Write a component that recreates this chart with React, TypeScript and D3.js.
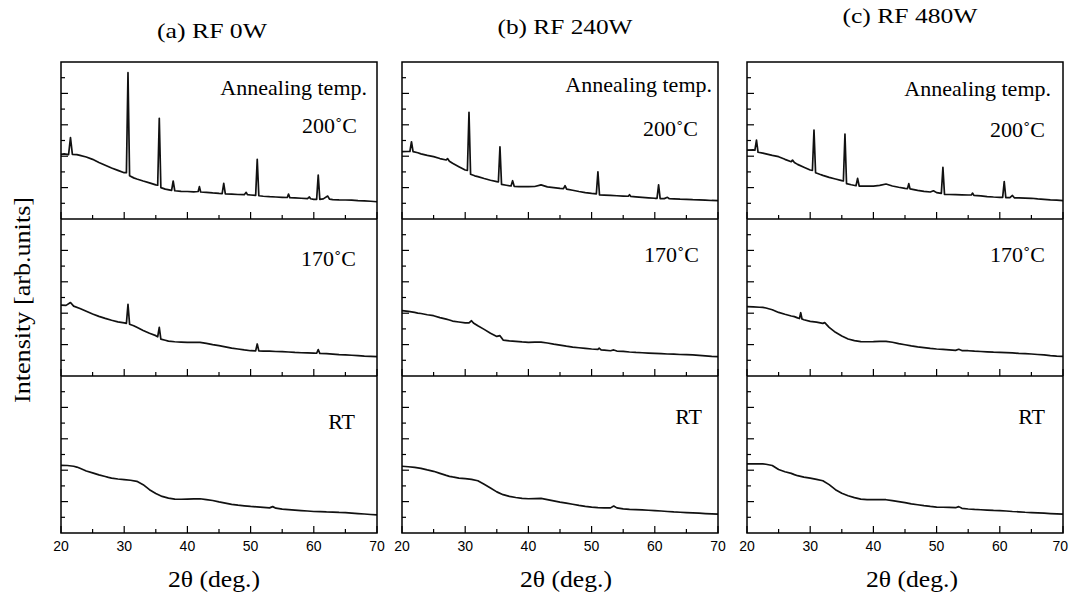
import * as d3 from "d3";

// x range of every panel (2theta, deg.)
const xDomain = [20, 70];
const xTickLabels = [20, 30, 40, 50, 60, 70];

const panelTitles = ["(a) RF 0W", "(b) RF 240W", "(c) RF 480W"];
const rowLabels = ["200˚C", "170˚C", "RT"];

// intensity read in units of the y tick grid (0..10 per row)
const a200 = [[20,4.12],[20.5,4.15],[21.2,4.1],[21.5,5.18],[21.8,4.12],[22.5,4.1],[23,4.05],[24,3.95],[25,3.8],[26,3.6],[27,3.42],[28,3.25],[29,3.1],[30,2.95],[30.35,2.95],[30.6,9.32],[30.85,2.75],[31.5,2.62],[32,2.55],[33,2.42],[34,2.3],[35,2.17],[35.3,2.15],[35.55,6.41],[35.8,2.0],[36.5,1.9],[37.5,1.82],[37.75,2.42],[38,1.8],[39,1.76],[40,1.75],[41,1.73],[41.7,1.75],[41.9,2.06],[42.1,1.72],[43,1.7],[44,1.66],[45,1.63],[45.5,1.62],[45.75,2.27],[46,1.6],[47,1.58],[48,1.56],[49,1.55],[49.3,1.7],[49.5,1.55],[50,1.53],[50.8,1.5],[51.05,3.8],[51.3,1.48],[52,1.45],[53,1.42],[54,1.4],[55,1.38],[55.8,1.37],[56.0,1.59],[56.2,1.36],[57,1.34],[58,1.32],[59,1.3],[59.3,1.4],[59.5,1.29],[60,1.25],[60.45,1.25],[60.7,2.8],[60.95,1.25],[61.5,1.28],[62.2,1.46],[62.5,1.26],[63,1.24],[64,1.22],[65,1.21],[66,1.2],[67,1.17],[68,1.15],[69,1.13],[70,1.1]];
const a170 = [[20,4.52],[20.8,4.5],[21.5,4.68],[22,4.45],[23,4.3],[24,4.12],[25,3.95],[26,3.8],[27,3.67],[28,3.55],[29,3.45],[30,3.38],[30.35,3.35],[30.6,4.57],[30.85,3.3],[31.5,3.2],[32,3.1],[33,2.9],[34,2.72],[35,2.57],[35.3,2.5],[35.55,3.1],[35.8,2.35],[36.5,2.28],[37,2.22],[38,2.18],[39,2.16],[40,2.14],[41,2.15],[42,2.14],[43,2.08],[44,2.0],[45,1.93],[46,1.86],[47,1.78],[48,1.72],[49,1.66],[50,1.61],[50.8,1.6],[51.05,2.04],[51.3,1.6],[52,1.58],[53,1.58],[54,1.56],[55,1.55],[56,1.53],[57,1.5],[58,1.48],[59,1.47],[60,1.46],[60.45,1.45],[60.7,1.68],[60.95,1.44],[62,1.42],[63,1.39],[64,1.36],[65,1.34],[66,1.32],[67,1.3],[68,1.27],[69,1.25],[70,1.23]];
const aRT = [[20,4.31],[21,4.3],[22,4.25],[22.5,4.2],[23,4.12],[24,3.95],[25,3.83],[26,3.7],[27,3.6],[27.5,3.54],[28,3.5],[29,3.44],[30,3.4],[31,3.36],[32,3.29],[33,3.08],[34,2.76],[35,2.52],[36,2.33],[37,2.22],[38,2.16],[39,2.15],[40,2.16],[41,2.17],[42,2.18],[43,2.13],[44,2.07],[45,1.98],[46,1.9],[47,1.82],[48,1.77],[49,1.73],[50,1.69],[51,1.66],[52,1.63],[53,1.6],[53.5,1.68],[54,1.58],[55,1.52],[56,1.49],[57,1.46],[58,1.43],[59,1.4],[60,1.37],[61,1.36],[62,1.34],[63,1.33],[64,1.31],[65,1.3],[66,1.27],[67,1.24],[68,1.21],[69,1.18],[70,1.15]];

const b200 = [[20,4.29],[20.8,4.3],[21.25,4.3],[21.5,4.92],[21.75,4.29],[22.5,4.22],[23,4.15],[24,4.05],[25,3.97],[26,3.85],[27,3.76],[27.2,3.85],[27.5,3.68],[28,3.55],[29,3.33],[30,3.12],[30.35,3.1],[30.6,6.8],[30.85,2.85],[31.5,2.75],[32,2.7],[33,2.58],[34,2.47],[35,2.38],[35.25,2.36],[35.5,4.6],[35.75,2.2],[36.5,2.15],[37.25,2.1],[37.5,2.44],[37.75,2.08],[38.5,2.06],[39,2.06],[40,2.06],[41,2.07],[42,2.17],[43,2.05],[44,2.0],[45,1.95],[45.55,1.93],[45.8,2.12],[46.05,1.9],[47,1.83],[48,1.75],[49,1.68],[50,1.63],[50.75,1.6],[51,3.01],[51.25,1.53],[52,1.52],[53,1.5],[54,1.48],[55,1.46],[55.8,1.45],[56,1.55],[56.2,1.44],[57,1.41],[58,1.38],[59,1.35],[60,1.32],[60.35,1.32],[60.6,2.17],[60.85,1.3],[61.5,1.3],[62,1.38],[62.3,1.29],[63,1.28],[64,1.26],[65,1.25],[66,1.23],[67,1.22],[68,1.2],[69,1.18],[70,1.17]];
const b170 = [[20,4.16],[21,4.12],[22,4.05],[22.5,4.01],[23,3.98],[24,3.9],[25,3.84],[26,3.72],[27,3.62],[27.5,3.57],[28,3.5],[29,3.44],[30,3.38],[30.6,3.38],[31,3.52],[31.3,3.38],[32,3.2],[33,2.97],[34,2.72],[35,2.52],[35.5,2.57],[35.8,2.4],[36,2.29],[37,2.24],[38,2.21],[39,2.17],[40,2.14],[41,2.16],[42,2.16],[43,2.1],[44,2.03],[45,1.97],[46,1.9],[47,1.84],[48,1.8],[49,1.76],[50,1.72],[51,1.7],[51.2,1.77],[51.5,1.67],[52,1.65],[53,1.61],[53.5,1.66],[54,1.59],[55,1.57],[56,1.53],[57,1.5],[58,1.48],[59,1.46],[60,1.44],[61,1.42],[62,1.4],[63,1.39],[64,1.37],[65,1.36],[66,1.34],[67,1.31],[68,1.28],[69,1.25],[70,1.23]];
const bRT = [[20,4.25],[21,4.22],[22,4.18],[22.5,4.15],[23,4.12],[24,4.02],[25,3.93],[26,3.8],[27,3.67],[27.5,3.61],[28,3.57],[29,3.5],[30,3.46],[31,3.42],[32,3.33],[33,3.1],[34,2.86],[35,2.62],[36,2.44],[37,2.33],[38,2.26],[39,2.21],[40,2.18],[41,2.19],[42,2.2],[43,2.13],[44,2.05],[45,1.97],[46,1.9],[47,1.83],[48,1.76],[49,1.7],[50,1.65],[51,1.62],[52,1.6],[53,1.6],[53.5,1.72],[54,1.6],[55,1.54],[56,1.51],[57,1.49],[58,1.47],[59,1.45],[60,1.43],[61,1.4],[62,1.37],[63,1.34],[64,1.32],[65,1.3],[66,1.28],[67,1.26],[68,1.24],[69,1.22],[70,1.2]];

const c200 = [[20,4.39],[21,4.4],[21.25,4.38],[21.5,5.03],[21.75,4.25],[22.5,4.2],[23,4.15],[24,4.05],[25,3.97],[26,3.8],[27,3.65],[27.2,3.75],[27.5,3.6],[28,3.48],[29,3.3],[30,3.12],[30.35,3.1],[30.6,5.67],[30.85,2.95],[31.5,2.85],[32,2.78],[33,2.65],[34,2.55],[35,2.44],[35.25,2.42],[35.5,5.41],[35.75,2.25],[36.5,2.18],[37.25,2.12],[37.5,2.59],[37.75,2.1],[38.5,2.1],[39,2.1],[40,2.1],[41,2.14],[42,2.23],[43,2.1],[44,2.02],[45,1.95],[45.4,1.94],[45.6,2.25],[45.8,1.92],[47,1.82],[48,1.76],[49,1.72],[49.5,1.8],[50,1.68],[50.75,1.63],[51,3.29],[51.25,1.57],[52,1.56],[53,1.55],[54,1.54],[55,1.53],[55.5,1.53],[55.7,1.65],[55.9,1.5],[57,1.47],[58,1.43],[59,1.4],[60,1.38],[60.45,1.38],[60.7,2.38],[60.95,1.36],[61.6,1.36],[62,1.5],[62.3,1.35],[63,1.34],[64,1.33],[65,1.32],[66,1.28],[67,1.25],[68,1.22],[69,1.2],[70,1.17]];
const c170 = [[20,4.42],[21,4.4],[22,4.38],[22.5,4.37],[23,4.33],[24,4.22],[25,4.05],[26,3.93],[27,3.82],[27.5,3.78],[28,3.7],[28.3,3.66],[28.5,4.03],[28.7,3.63],[29,3.58],[30,3.48],[31,3.43],[32,3.35],[32.3,3.4],[33,3.1],[34,2.78],[35,2.55],[36,2.36],[37,2.25],[38,2.19],[39,2.18],[40,2.19],[41,2.21],[42,2.21],[43,2.15],[44,2.06],[45,1.99],[46,1.92],[47,1.86],[48,1.81],[49,1.76],[50,1.72],[51,1.69],[52,1.66],[53,1.63],[53.5,1.7],[54,1.62],[55,1.61],[56,1.58],[57,1.56],[58,1.54],[59,1.52],[60,1.51],[61,1.49],[62,1.47],[63,1.44],[64,1.42],[65,1.4],[66,1.37],[67,1.34],[68,1.3],[69,1.27],[70,1.25]];
const cRT = [[20,4.4],[21,4.4],[22,4.4],[22.5,4.4],[23,4.38],[24,4.3],[25,4.04],[26,3.9],[27,3.8],[27.5,3.72],[28,3.65],[29,3.56],[30,3.5],[31,3.42],[32,3.33],[33,3.08],[34,2.76],[35,2.53],[36,2.37],[37,2.25],[38,2.16],[39,2.13],[40,2.12],[41,2.12],[42,2.12],[43,2.06],[44,2.0],[45,1.93],[46,1.86],[47,1.8],[48,1.74],[49,1.69],[50,1.65],[51,1.64],[52,1.63],[53,1.61],[53.5,1.68],[54,1.57],[55,1.53],[56,1.5],[57,1.48],[58,1.46],[59,1.44],[60,1.43],[61,1.4],[62,1.37],[63,1.35],[64,1.32],[65,1.3],[66,1.28],[67,1.26],[68,1.24],[69,1.22],[70,1.2]];

const curves = [
  [a200, a170, aRT],
  [b200, b170, bRT],
  [c200, c170, cRT],
];

// layout
const W = 1069;
const H = 594;
const panelLeft = [61, 402, 747];
const panelWidth = 316;
const top = 62;
const rowH = 157;
const serif = "'Liberation Serif', 'Times New Roman', serif";
const sans = "'Liberation Sans', Arial, sans-serif";

const titlePos = [
  { x: 212, y: 38, len: 110 },
  { x: 565, y: 34, len: 135 },
  { x: 910, y: 23, len: 135 },
];
const xTitleX = [214, 566, 912];
const annealRight = [367, 712, 1051];
const rowLabelRight = [
  [357, 356, 355],
  [698, 699, 702],
  [1045, 1045, 1045],
];
const rowLabelY = [
  [133, 266, 429],
  [136, 262, 424],
  [137, 262, 424],
];
const annealY = [95, 92, 96];

function Panel({ p }: { p: number }) {
  const x0 = panelLeft[p];
  const x = d3.scaleLinear().domain(xDomain).range([x0, x0 + panelWidth]);
  const xTicks = x.ticks(10);
  return (
    <g>
      {[0, 1, 2].map((r) => {
        const y0 = top + r * rowH;
        const y = d3.scaleLinear().domain([0, 10]).range([y0 + rowH, y0]);
        const line = d3
          .line<number[]>()
          .x((d) => x(d[0]))
          .y((d) => y(d[1]));
        return (
          <g key={r}>
            {xTicks.map((t) => (
              <line
                key={"x" + t}
                x1={x(t)}
                x2={x(t)}
                y1={y0 + rowH}
                y2={y0 + rowH - (t % 10 === 0 ? 7 : 4)}
                stroke="#000"
                strokeWidth={1.2}
              />
            ))}
            {d3.range(1, 10).map((t) => (
              <line
                key={"y" + t}
                x1={x0}
                x2={x0 + (t % 2 === 0 ? 7 : 4)}
                y1={y(t)}
                y2={y(t)}
                stroke="#000"
                strokeWidth={1.2}
              />
            ))}
            <path
              d={line(curves[p][r]) || ""}
              fill="none"
              stroke="#111"
              strokeWidth={1.7}
              strokeLinejoin="round"
            />
            <text
              x={rowLabelRight[p][r]}
              y={rowLabelY[p][r]}
              textAnchor="end"
              fontFamily={serif}
              fontSize={22}
            >
              {rowLabels[r]}
            </text>
          </g>
        );
      })}
      <rect
        x={x0}
        y={top}
        width={panelWidth}
        height={rowH * 3}
        fill="none"
        stroke="#000"
        strokeWidth={1.5}
      />
      <line x1={x0} x2={x0 + panelWidth} y1={top + rowH} y2={top + rowH} stroke="#000" strokeWidth={1.5} />
      <line x1={x0} x2={x0 + panelWidth} y1={top + 2 * rowH} y2={top + 2 * rowH} stroke="#000" strokeWidth={1.5} />
      <text
        x={annealRight[p]}
        y={annealY[p]}
        textAnchor="end"
        fontFamily={serif}
        fontSize={22}
      >
        Annealing temp.
      </text>
      {xTickLabels.map((t) => {
        // keep the last label of the right panel inside the page
        const edge = x(t) + 9 > W;
        return (
          <text
            key={t}
            x={edge ? W - 1 : x(t)}
            y={551}
            textAnchor={edge ? "end" : "middle"}
            fontFamily={sans}
            fontSize={14}
          >
            {t}
          </text>
        );
      })}
      <text
        x={xTitleX[p]}
        y={587}
        textAnchor="middle"
        fontFamily={serif}
        fontSize={23}
        textLength={92}
        lengthAdjust="spacingAndGlyphs"
      >
        2θ (deg.)
      </text>
      <text
        x={titlePos[p].x}
        y={titlePos[p].y}
        textAnchor="middle"
        fontFamily={serif}
        fontSize={22}
        textLength={titlePos[p].len}
        lengthAdjust="spacingAndGlyphs"
      >
        {panelTitles[p]}
      </text>
    </g>
  );
}

export default function App() {
  return (
    <svg
      width={W}
      height={H}
      viewBox={`0 0 ${W} ${H}`}
      style={{ position: "absolute", left: 0, top: 0, background: "#fff" }}
    >
      <rect width={W} height={H} fill="#fff" />
      {[0, 1, 2].map((p) => (
        <Panel key={p} p={p} />
      ))}
      <text
        transform="translate(30,300) rotate(-90)"
        textAnchor="middle"
        fontFamily={serif}
        fontSize={23}
        textLength={206}
        lengthAdjust="spacingAndGlyphs"
      >
        Intensity [arb.units]
      </text>
    </svg>
  );
}
